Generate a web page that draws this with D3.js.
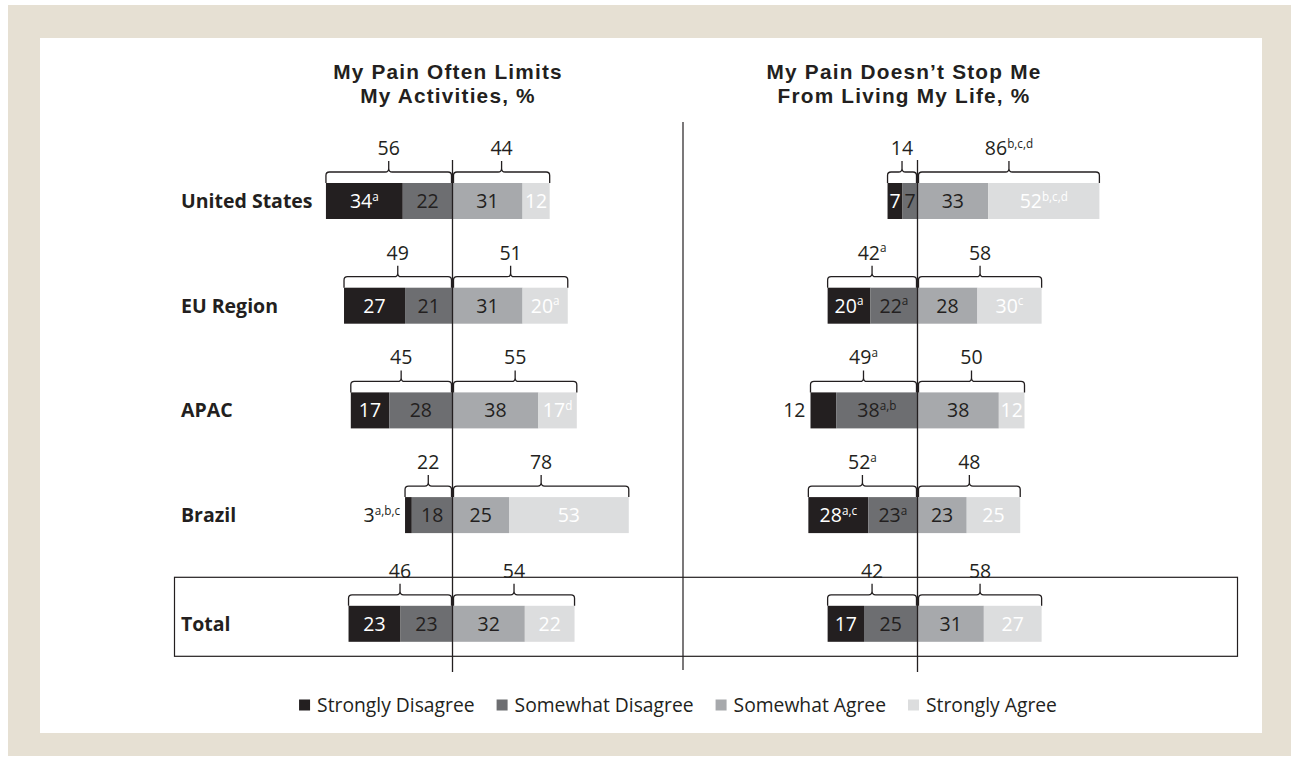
<!DOCTYPE html>
<html>
<head>
<meta charset="utf-8">
<script src="https://cdn.jsdelivr.net/npm/d3@7"></script>
<style>
  html, body { margin: 0; padding: 0; background: #fff; }
  svg text { font-family: "Open Sans", "Noto Sans", sans-serif; }
  svg text.title { font-family: "Liberation Sans", Arial, sans-serif; }
</style>
</head>
<body>
<div id="vis"></div>
<script>
// canvas
const W = 1299, H = 761;

// rows
const categories = ['United States', 'EU Region', 'APAC', 'Brazil', 'Total'];
const segmentNames = ['Strongly Disagree', 'Somewhat Disagree', 'Somewhat Agree', 'Strongly Agree'];
const colors = ['#231f20', '#6d6e71', '#a7a9ac', '#dcddde'];
const textColors = ['#ffffff', '#231f20', '#231f20', '#ffffff'];

// left panel: "My Pain Often Limits My Activities, %"
const limitsTitle = ['My Pain Often Limits', 'My Activities, %'];
const limitsStrongDis = [34, 27, 17, 3, 23];
const limitsSomeDis = [22, 21, 28, 18, 23];
const limitsSomeAgree = [31, 31, 38, 25, 32];
const limitsStrongAgree = [12, 20, 17, 53, 22];
const limitsDisTotal = [56, 49, 45, 22, 46];
const limitsAgreeTotal = [44, 51, 55, 78, 54];
const limitsSegSup = [['a', '', '', ''], ['', '', '', 'a'], ['', '', '', 'd'], ['a,b,c', '', '', ''], ['', '', '', '']];
const limitsTotalSup = [['', ''], ['', ''], ['', ''], ['', ''], ['', '']];
const limitsOutside = [false, false, false, true, false];

// right panel: "My Pain Doesn't Stop Me From Living My Life, %"
const stopTitle = ['My Pain Doesn\u2019t Stop Me', 'From Living My Life, %'];
const stopStrongDis = [7, 20, 12, 28, 17];
const stopSomeDis = [7, 22, 38, 23, 25];
const stopSomeAgree = [33, 28, 38, 23, 31];
const stopStrongAgree = [52, 30, 12, 25, 27];
const stopDisTotal = [14, 42, 49, 52, 42];
const stopAgreeTotal = [86, 58, 50, 48, 58];
const stopSegSup = [['', '', '', 'b,c,d'], ['a', 'a', '', 'c'], ['', 'a,b', '', ''], ['a,c', 'a', '', ''], ['', '', '', '']];
const stopTotalSup = [['', 'b,c,d'], ['a', ''], ['a', ''], ['a', ''], ['', '']];
const stopOutside = [false, false, true, false, false];

const svg = d3.select('#vis').append('svg')
    .attr('width', W).attr('height', H);

// beige frame + white panel
svg.append('rect').attr('x', 8).attr('y', 5).attr('width', 1283).attr('height', 751).attr('fill', '#e6e0d3');
svg.append('rect').attr('x', 40).attr('y', 38).attr('width', 1222).attr('height', 695).attr('fill', '#ffffff');

// row positions (bar tops)
const y = d3.scaleBand().domain(categories).range([183, 706.5]).paddingInner(0).paddingOuter(0);
const barH = 36;
const rowTop = c => y(c) + (c === 'Total' ? 4 : 0);

// horizontal scales, one per panel
const xLeft = d3.scaleLinear().domain([-100, 100]).range([452.5 - 226, 452.5 + 226]);
const xRight = d3.scaleLinear().domain([-100, 100]).range([917.5 - 214, 917.5 + 214]);

// box around Total row
svg.append('rect')
    .attr('x', 174.5).attr('y', rowTop('Total') - 28.5)
    .attr('width', 1063).attr('height', 79)
    .attr('fill', 'none').attr('stroke', '#231f20').attr('stroke-width', 1.2);

// divider between panels
svg.append('line').attr('x1', 683).attr('x2', 683).attr('y1', 122).attr('y2', 670)
    .attr('stroke', '#231f20').attr('stroke-width', 1.2);

// row labels
svg.selectAll('.row-label').data(categories).join('text')
    .attr('class', 'row-label')
    .attr('x', 181)
    .attr('y', c => rowTop(c) + barH / 2)
    .attr('dy', '0.35em')
    .attr('font-size', 19.5)
    .attr('font-weight', 'bold')
    .attr('fill', '#231f20')
    .text(c => c);

function addLabel(sel, value, sup, size) {
    sel.append('tspan').text(value);
    if (sup) {
        sel.append('tspan')
            .attr('font-size', size * 0.6)
            .attr('dy', -size * 0.38)
            .text(sup);
    }
}

function drawPanel(x, title, titleX, sd, swd, sa, sag, disTot, agrTot, segSup, totSup, outside) {
    const g = svg.append('g');
    const cx = x(0);

    // title, two lines
    g.selectAll(null).data(title).join('text')
        .attr('class', 'title')
        .attr('x', titleX)
        .attr('y', (d, i) => 79 + i * 24)
        .attr('text-anchor', 'middle')
        .attr('font-size', 20.8).attr('font-weight', 'bold').attr('fill', '#231f20')
        .attr('letter-spacing', 1.2)
        .text(d => d);

    categories.forEach((c, i) => {
        const top = rowTop(c);
        const segs = [
            { v: sd[i], x0: -(sd[i] + swd[i]), x1: -swd[i] },
            { v: swd[i], x0: -swd[i], x1: 0 },
            { v: sa[i], x0: 0, x1: sa[i] },
            { v: sag[i], x0: sa[i], x1: sa[i] + sag[i] }
        ];

        // bar segments
        g.selectAll(null).data(segs).join('rect')
            .attr('x', d => x(d.x0))
            .attr('y', top)
            .attr('width', d => x(d.x1) - x(d.x0))
            .attr('height', barH)
            .attr('fill', (d, k) => colors[k]);

        // segment labels
        segs.forEach((d, k) => {
            const out = k === 0 && outside[i];
            const t = g.append('text')
                .attr('x', out ? x(d.x0) - 5 : (x(d.x0) + x(d.x1)) / 2)
                .attr('y', top + barH / 2)
                .attr('dy', '0.36em')
                .attr('text-anchor', out ? 'end' : 'middle')
                .attr('font-size', 19.5)
                .attr('fill', out ? '#231f20' : textColors[k]);
            addLabel(t, d.v, segSup[i][k], 19.5);
        });

        // brackets
        const yb = top - 11;
        const left = x(segs[0].x0), right = x(segs[3].x1);
        const brackets = [
            { a: left, b: cx - 1, v: disTot[i], sup: totSup[i][0] },
            { a: cx + 1, b: right, v: agrTot[i], sup: totSup[i][1] }
        ];
        brackets.forEach(br => {
            const m = (br.a + br.b) / 2;
            const r = 3.5;
            const p = d3.path();
            p.moveTo(br.a, top);
            p.lineTo(br.a, yb + r);
            p.quadraticCurveTo(br.a, yb, br.a + r, yb);
            p.lineTo(m - r, yb);
            p.quadraticCurveTo(m, yb, m, yb - r);
            p.lineTo(m, yb - 11);
            p.moveTo(m, yb - r);
            p.quadraticCurveTo(m, yb, m + r, yb);
            p.lineTo(br.b - r, yb);
            p.quadraticCurveTo(br.b, yb, br.b, yb + r);
            p.lineTo(br.b, top);
            g.append('path').attr('d', p.toString())
                .attr('fill', 'none').attr('stroke', '#231f20').attr('stroke-width', 1.3);

            const t = g.append('text')
                .attr('x', m).attr('y', yb - 17)
                .attr('text-anchor', 'middle')
                .attr('font-size', 19.5).attr('fill', '#231f20');
            addLabel(t, br.v, br.sup, 19.5);
        });
    });

    // center line
    g.append('line').attr('x1', cx).attr('x2', cx).attr('y1', 160).attr('y2', 672)
        .attr('stroke', '#231f20').attr('stroke-width', 1.3);
}

drawPanel(xLeft, limitsTitle, 448, limitsStrongDis, limitsSomeDis, limitsSomeAgree, limitsStrongAgree,
    limitsDisTotal, limitsAgreeTotal, limitsSegSup, limitsTotalSup, limitsOutside);
drawPanel(xRight, stopTitle, 904, stopStrongDis, stopSomeDis, stopSomeAgree, stopStrongAgree,
    stopDisTotal, stopAgreeTotal, stopSegSup, stopTotalSup, stopOutside);

// legend
const legend = svg.append('g');
let lx = 0;
segmentNames.forEach((name, k) => {
    const item = legend.append('g').attr('transform', `translate(${lx},0)`);
    item.append('rect').attr('x', 0).attr('y', -5.5).attr('width', 11).attr('height', 11).attr('fill', colors[k]);
    const t = item.append('text').attr('x', 18).attr('y', 0).attr('dy', '0.35em')
        .attr('font-size', 19.3).attr('fill', '#231f20').text(name);
    lx += 18 + t.node().getComputedTextLength() + 22;
});
lx -= 22;
legend.attr('transform', `translate(${678 - lx / 2},705)`);
</script>
</body>
</html>
